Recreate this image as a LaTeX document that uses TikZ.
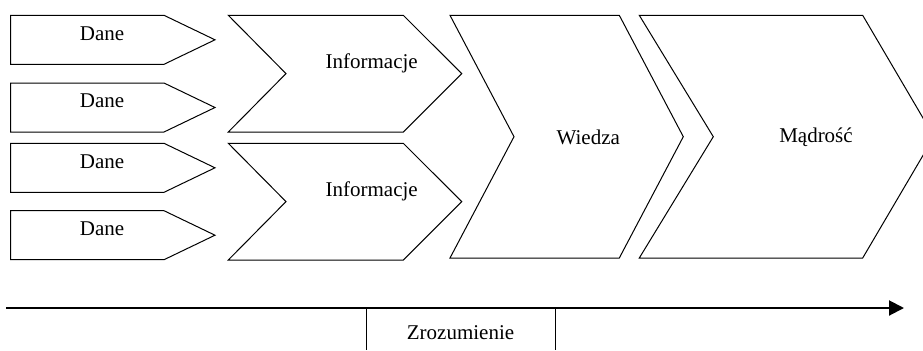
\documentclass[tikz,border=0pt]{standalone}
\usepackage{fontspec}
\setmainfont{Liberation Serif}
\usepackage{tikz}
\usetikzlibrary{arrows.meta}

\begin{document}
\begin{tikzpicture}[x=0.5pt,y=-0.5pt,
  blok/.style={draw, line width=0.5pt, line join=miter},
  napis/.style={font=\fontsize{10.5}{12}\selectfont, inner sep=0pt}]
\useasboundingbox (0,0) rectangle (923,350);
% dane
\foreach \t [count=\i] in {15.3,83,143.3,210.7} {
  \draw [blok] (10.7,\t) -- (164,\t) -- (215,\t+24.5) -- (164,\t+49) -- (10.7,\t+49) -- cycle;
  \node [napis] (dane\i) at (102,\t+18) {Dane};
}
% informacje
\foreach \t [count=\i] in {15.3,143.3} {
  \draw [blok] (228.3,\t) -- (403.3,\t) -- (461.7,\t+58.3) -- (403.3,\t+116.7) -- (228.3,\t+116.7) -- (286,\t+58.3) -- cycle;
  \node [napis] (info\i) at (371.7,\t+48) {Informacje};
}
% wiedza
\draw [blok] (450,15.3) -- (619.3,15.3) -- (683.3,136.7) -- (619.3,258) -- (450,258) -- (514,136.7) -- cycle;
\node [napis] (wiedza) at (588.3,137) {Wiedza};
% madrosc
\draw [blok] (639.3,15.3) -- (862.7,15.3) -- (934,136.7) -- (862.7,258) -- (639.3,258) -- (713.3,136.7) -- cycle;
\node [napis] (madrosc) at (816,137) {Mądrość};
% os
\coordinate (start) at (6,308);
\coordinate (koniec) at (904,308);
\draw [line width=1pt, -{Triangle[length=7.5pt,width=7.5pt]}] (start) -- (koniec);
\draw [line width=0.5pt] (366,308) -- (366,350);
\draw [line width=0.5pt] (555,308) -- (555,350);
\node [napis] (zroz) at (460.5,333) {Zrozumienie};
\end{tikzpicture}
\end{document}
